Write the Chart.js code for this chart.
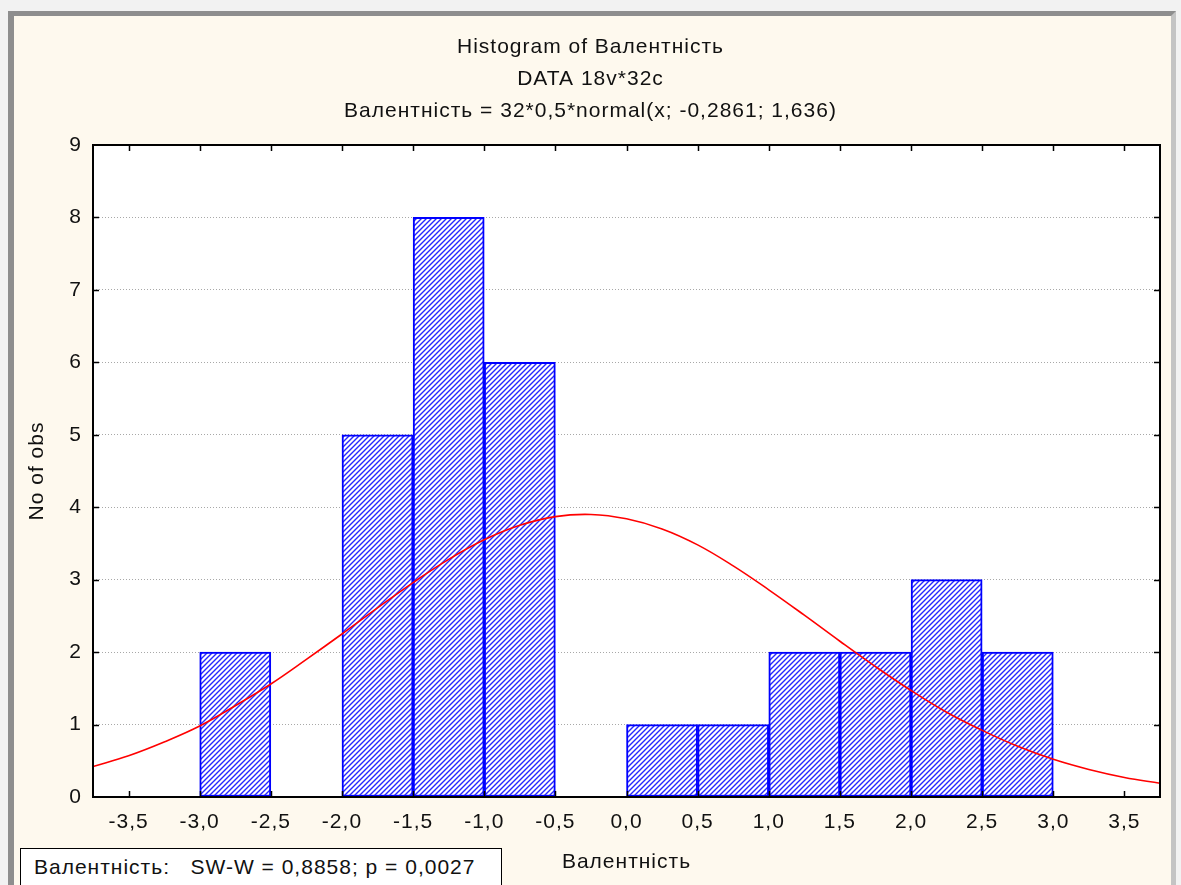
<!DOCTYPE html>
<html>
<head>
<meta charset="utf-8">
<script src="https://cdn.jsdelivr.net/npm/chart.js@4.4.1/dist/chart.umd.min.js"></script>
<style>
  html, body { margin: 0; padding: 0; background: #f2f2f2; width: 1181px; height: 885px; overflow: hidden; }
  #frame {
    position: absolute; left: 8px; top: 11px; width: 1157px; height: 900px;
    background: #fef9ee;
    border-top: 5px solid #8e8e8e; border-left: 6px solid #8e8e8e; border-right: 5px solid #c4c4c4;
  }
  #chart { position: absolute; left: 0; top: 0; z-index: 1; }
  #swbox {
    position: absolute; left: 20px; top: 848px; width: 482px; height: 50px; z-index: 2;
    background: #fff; border: 1.5px solid #000; box-sizing: border-box;
    font: 21px "Liberation Sans", Arial, sans-serif; letter-spacing: 1px; color: #111;
    line-height: 36px; padding-left: 13px; white-space: pre;
  }
</style>
</head>
<body>
<div id="frame"></div>
<canvas id="chart" width="1181" height="885"></canvas>
<div id="swbox">Валентність:   SW-W = 0,8858; p = 0,0027</div>
<script>
// histogram bins (centre of each 0,5 wide bin) and counts
var binCenters = [-2.75, -2.25, -1.75, -1.25, -0.75, -0.25, 0.25, 0.75, 1.25, 1.75, 2.25, 2.75];
var binCounts  = [2, 0, 5, 8, 6, 0, 1, 1, 2, 2, 3, 2];

// fitted normal curve
var curveX = [-3.75, -3.5, -3.25, -3.0, -2.75, -2.5, -2.25, -2.0, -1.75, -1.5, -1.25, -1.0, -0.75, -0.5, -0.25,
              0, 0.25, 0.5, 0.75, 1.0, 1.25, 1.5, 1.75, 2.0, 2.25, 2.5, 2.75, 3.0, 3.25, 3.5, 3.75];
var curveY = [0.42, 0.57, 0.76, 0.98, 1.26, 1.56, 1.90, 2.25, 2.61, 2.96, 3.28, 3.55, 3.75, 3.87, 3.90,
              3.84, 3.70, 3.48, 3.19, 2.86, 2.51, 2.15, 1.80, 1.47, 1.17, 0.92, 0.70, 0.52, 0.38, 0.27, 0.19];

// axis ticks
var xTicks = [-3.5, -3.0, -2.5, -2.0, -1.5, -1.0, -0.5, 0, 0.5, 1.0, 1.5, 2.0, 2.5, 3.0, 3.5];
var yTicks = [0, 1, 2, 3, 4, 5, 6, 7, 8, 9];

var titleLines = ['Histogram of Валентність', 'DATA 18v*32c', 'Валентність = 32*0,5*normal(x; -0,2861; 1,636)'];
var xTitle = 'Валентність';
var yTitle = 'No of obs';

var FONT = '"Liberation Sans", Arial, sans-serif';
var TXT = '#111';

// blue "////" hatch
function hatch() {
  var c = document.createElement('canvas');
  c.width = 5; c.height = 5;
  var g = c.getContext('2d');
  g.fillStyle = '#fff';
  g.fillRect(0, 0, 5, 5);
  g.strokeStyle = '#2626ff';
  g.lineWidth = 1.4;
  g.beginPath();
  g.moveTo(-1, 6); g.lineTo(6, -1);
  g.moveTo(-1, 1); g.lineTo(1, -1);
  g.moveTo(4, 6); g.lineTo(6, 4);
  g.stroke();
  return g.createPattern(c, 'repeat');
}

var histData = binCenters.map(function(x, i) { return { x: x, y: binCounts[i] }; });
var curveData = curveX.map(function(x, i) { return { x: x, y: curveY[i] }; });

var plotStyle = {
  id: 'plotStyle',
  beforeUpdate: function(chart) { chart.ctx.letterSpacing = '1px'; },
  beforeDraw: function(chart) {
    var ctx = chart.ctx, a = chart.chartArea;
    ctx.letterSpacing = '1px';
    ctx.save();
    ctx.fillStyle = '#fff';
    ctx.fillRect(a.left, a.top, a.right - a.left, a.bottom - a.top);
    ctx.restore();
  },
  afterDraw: function(chart) {
    var ctx = chart.ctx, a = chart.chartArea;
    var xs = chart.scales.x, ys = chart.scales.y;
    ctx.save();
    ctx.strokeStyle = '#000';
    ctx.lineWidth = 1.5;
    ctx.beginPath();
    xTicks.forEach(function(v) {
      var px = Math.round(xs.getPixelForValue(v)) + 0.5;
      ctx.moveTo(px, a.bottom); ctx.lineTo(px, a.bottom - 6);
      ctx.moveTo(px, a.top); ctx.lineTo(px, a.top + 6);
    });
    yTicks.forEach(function(v) {
      if (v === 0 || v === 9) return;
      var py = Math.round(ys.getPixelForValue(v)) + 0.5;
      ctx.moveTo(a.left, py); ctx.lineTo(a.left + 6, py);
      ctx.moveTo(a.right, py); ctx.lineTo(a.right - 6, py);
    });
    ctx.stroke();
    ctx.lineWidth = 2;
    ctx.strokeRect(a.left, a.top, a.right - a.left, a.bottom - a.top);
    ctx.restore();
  }
};

new Chart(document.getElementById('chart'), {
  data: {
    datasets: [{
      type: 'line',
      data: curveData,
      borderColor: '#ff0000',
      borderWidth: 1.6,
      pointRadius: 0,
      tension: 0.4,
      order: 0
    }, {
      type: 'bar',
      data: histData,
      backgroundColor: hatch(),
      borderColor: '#0000ff',
      borderWidth: 2,
      borderSkipped: false,
      barPercentage: 1,
      categoryPercentage: 1,
      grouped: false,
      order: 1
    }]
  },
  options: {
    responsive: false,
    devicePixelRatio: 1,
    animation: false,
    layout: { padding: 0 },
    plugins: {
      legend: { display: false },
      tooltip: { enabled: false },
      title: {
        display: true,
        text: titleLines,
        color: TXT,
        font: { family: FONT, size: 21, weight: 'normal', lineHeight: 32 / 21 },
        padding: { top: 31.5, bottom: 17.5 }
      }
    },
    scales: {
      x: {
        type: 'linear',
        min: -3.75,
        max: 3.75,
        offset: false,
        grid: { display: false, drawTicks: false, offset: false },
        border: { display: false },
        afterBuildTicks: function(s) { s.ticks = xTicks.map(function(v) { return { value: v }; }); },
        afterFit: function(s) { s.height = 88; },
        ticks: {
          autoSkip: false,
          maxRotation: 0,
          padding: 13,
          color: TXT,
          font: { family: FONT, size: 21 },
          callback: function(v) { return Number(v).toFixed(1).replace('.', ','); }
        },
        title: {
          display: true,
          text: xTitle,
          color: TXT,
          font: { family: FONT, size: 21 },
          padding: { top: 0, bottom: 10 }
        }
      },
      y: {
        type: 'linear',
        min: 0,
        max: 9,
        afterBuildTicks: function(s) { s.ticks = yTicks.map(function(v) { return { value: v }; }); },
        afterFit: function(s) { s.width = 93; },
        grid: {
          drawTicks: false,
          lineWidth: 1,
          color: function(c) { return (c.tick && c.tick.value > 0 && c.tick.value < 9) ? '#a8a8a8' : 'rgba(0,0,0,0)'; }
        },
        border: { display: false, dash: [1, 2] },
        ticks: {
          padding: 11,
          color: TXT,
          font: { family: FONT, size: 21 }
        },
        title: {
          display: true,
          text: yTitle,
          color: TXT,
          font: { family: FONT, size: 21 },
          padding: { top: 25, bottom: 0 }
        }
      },
      yr: {
        type: 'linear',
        position: 'right',
        min: 0,
        max: 9,
        grid: { display: false, drawTicks: false },
        border: { display: false },
        ticks: { display: false },
        afterFit: function(s) { s.width = 21; }
      }
    }
  },
  plugins: [plotStyle]
});
</script>
</body>
</html>
